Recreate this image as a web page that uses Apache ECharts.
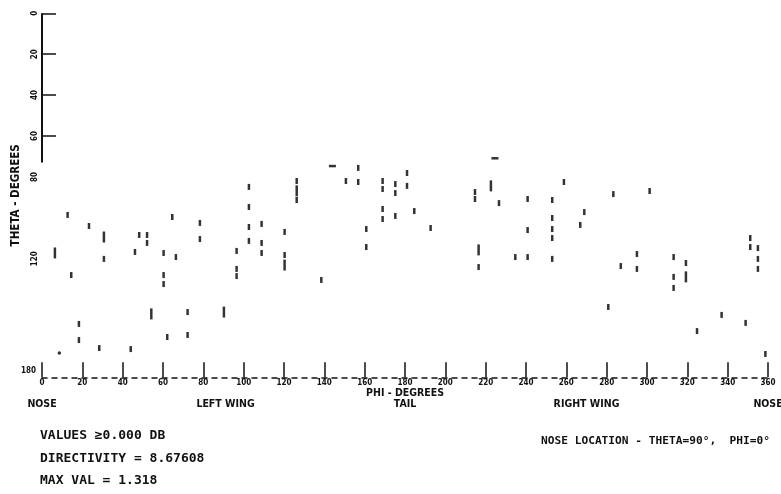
<!DOCTYPE html>
<html lang="en">
<head>
    <meta charset="UTF-8">
    <title>Theta - Phi pattern</title>
    <script src="https://cdn.jsdelivr.net/npm/echarts@6.0.0/dist/echarts.min.js"></script>
    <style>
        html, body { margin: 0; padding: 0; background: #fff; }
    </style>
</head>
<body>
    <div id="main" style="width: 781px; height: 494px;"></div>
    <script>
        // [phi, theta] in degrees
        var shortDashes = [
            [102.6, 84.9], [102.6, 94.7], [126.3, 82.0], [126.3, 91.3],
            [12.7, 98.6], [23.3, 104.0], [64.6, 99.6], [78.3, 102.5], [108.9, 103.0], [102.6, 104.5],
            [48.2, 108.4], [52.1, 108.4], [52.1, 112.3], [78.3, 110.4], [102.6, 111.3], [108.9, 112.3],
            [120.3, 106.9], [30.7, 120.1], [46.1, 116.7], [60.3, 117.2], [66.4, 119.2], [96.5, 116.2],
            [108.9, 117.2], [120.3, 118.2], [14.5, 128.0], [60.3, 128.0], [60.3, 132.4], [96.5, 125.0],
            [96.5, 128.5], [72.2, 146.1], [18.3, 151.9], [18.3, 159.8], [62.1, 158.3], [72.2, 157.3],
            [28.4, 163.7], [44.0, 164.2],
            [156.8, 75.6], [150.7, 82.0], [156.8, 82.5], [168.9, 82.0], [168.9, 85.9], [175.2, 83.5],
            [175.2, 87.9], [181.0, 78.1], [181.0, 84.4], [168.9, 95.7], [168.9, 100.6], [175.2, 99.1],
            [184.6, 96.7], [160.8, 105.5], [160.8, 114.3], [192.7, 105.0], [138.5, 130.4],
            [214.7, 87.4], [214.7, 90.8], [226.6, 92.8], [240.8, 90.8], [240.8, 106.0], [216.5, 124.1],
            [234.7, 119.2], [240.8, 119.2],
            [258.8, 82.5], [253.0, 91.3], [283.3, 88.4], [301.3, 86.9], [268.9, 97.2], [253.0, 100.1],
            [266.9, 103.5], [253.0, 105.5], [253.0, 109.9], [253.0, 120.1], [351.2, 109.9], [351.2, 114.3],
            [355.0, 114.8], [355.0, 120.1], [355.0, 125.0], [295.0, 117.7], [295.0, 125.0], [287.0, 123.6],
            [313.2, 119.2], [313.2, 128.9], [313.2, 134.3], [319.3, 122.1], [280.8, 143.6], [337.0, 147.5],
            [348.9, 151.4], [324.8, 155.4], [358.7, 166.6]
        ];
        var longDashes = [
            [126.3, 86.8], [30.7, 109.4], [6.4, 117.2], [120.3, 123.1], [54.2, 147.0], [90.2, 146.1],
            [222.6, 84.4], [216.5, 115.7], [319.3, 128.9]
        ];
        var flatDashes = [[144.0, 74.7], [224.6, 70.9]];
        var dots = [[8.6, 166.1]];

        // the drawn part of the theta axis
        var thetaAxisRun = [[0, 0], [0, 73]];

        var phiTicks = [0, 20, 40, 60, 80, 100, 120, 140, 160, 180, 200, 220, 240, 260, 280, 300, 320, 340, 360];
        var thetaTicks = [0, 20, 40, 60];
        var thetaLabels = [0, 20, 40, 60, 80, 120];
        var thetaEndLabel = 175;
        var regionAt = [0, 91, 180, 270, 360];
        var regionNames = ['NOSE', 'LEFT WING', 'TAIL', 'RIGHT WING', 'NOSE'];

        var notes = ['VALUES \u22650.000 DB', 'DIRECTIVITY = 8.67608', 'MAX VAL = 1.318'];
        var noseNote = 'NOSE LOCATION - THETA=90\u00b0,  PHI=0\u00b0';

        var font = 'DejaVu Sans Condensed';
        var ink = '#111';

        var chartDom = document.getElementById('main');
        var myChart = echarts.init(chartDom);
        var option;

        option = {
            animation: false,
            backgroundColor: '#fff',
            grid: {
                left: 42,
                right: 13,
                top: 13.3,
                bottom: 116.7,
                containLabel: false,
                outerBoundsMode: 'none'
            },
            xAxis: [
                {
                    type: 'value',
                    min: 0,
                    max: 360,
                    interval: 20,
                    position: 'bottom',
                    name: 'PHI - DEGREES',
                    nameLocation: 'middle',
                    nameGap: 10,
                    nameMoveOverlap: false,
                    nameTextStyle: { fontFamily: font, fontWeight: 'bold', fontSize: 10.5, color: ink },
                    axisLine: { show: true, onZero: false, lineStyle: { color: ink, width: 1.5, type: [5, 5] } },
                    axisTick: { show: true, inside: true, length: 15, lineStyle: { color: ink, width: 1.5 } },
                    axisLabel: {
                        customValues: phiTicks,
                        margin: 2,
                        fontFamily: font, fontWeight: 'bold', fontSize: 8, color: ink
                    },
                    splitLine: { show: false }
                },
                {
                    type: 'value',
                    min: 0,
                    max: 360,
                    position: 'bottom',
                    offset: 19,
                    axisLine: { show: false, onZero: false },
                    axisTick: { show: false },
                    splitLine: { show: false },
                    axisLabel: {
                        customValues: regionAt,
                        margin: 2,
                        fontFamily: font, fontWeight: 'bold', fontSize: 10.5, color: ink,
                        formatter: function (v) {
                            return regionNames[regionAt.indexOf(v)] || '';
                        }
                    }
                }
            ],
            yAxis: [
                {
                    type: 'value',
                    inverse: true,
                    min: 0,
                    max: 178,
                    position: 'left',
                    name: 'THETA - DEGREES',
                    nameLocation: 'middle',
                    nameGap: 20,
                    nameTextStyle: { fontFamily: font, fontWeight: 'bold', fontSize: 11.5, color: ink },
                    axisLine: { show: false, onZero: false },
                    axisTick: {
                        show: true, inside: true, length: 14,
                        customValues: thetaTicks,
                        lineStyle: { color: ink, width: 1.5 }
                    },
                    axisLabel: {
                        customValues: thetaLabels,
                        rotate: 90,
                        margin: 3,
                        fontFamily: font, fontWeight: 'bold', fontSize: 8, color: ink
                    },
                    splitLine: { show: false }
                },
                {
                    type: 'value',
                    inverse: true,
                    min: 0,
                    max: 178,
                    position: 'left',
                    axisLine: { show: false, onZero: false },
                    axisTick: { show: false },
                    splitLine: { show: false },
                    axisLabel: {
                        customValues: [thetaEndLabel],
                        margin: 6,
                        fontFamily: font, fontWeight: 'bold', fontSize: 8, color: ink,
                        formatter: function () { return '180'; }
                    }
                }
            ],
            series: [
                {
                    name: 'theta axis',
                    type: 'line',
                    data: thetaAxisRun,
                    symbol: 'none',
                    lineStyle: { color: ink, width: 2 },
                    silent: true
                },
                {
                    name: 'short',
                    type: 'scatter',
                    data: shortDashes,
                    symbol: 'rect',
                    symbolSize: [2.5, 6],
                    itemStyle: { color: '#000' }
                },
                {
                    name: 'long',
                    type: 'scatter',
                    data: longDashes,
                    symbol: 'rect',
                    symbolSize: [2.5, 11],
                    itemStyle: { color: '#000' }
                },
                {
                    name: 'flat',
                    type: 'scatter',
                    data: flatDashes,
                    symbol: 'rect',
                    symbolSize: [7, 2.5],
                    itemStyle: { color: '#000' }
                },
                {
                    name: 'dot',
                    type: 'scatter',
                    data: dots,
                    symbol: 'circle',
                    symbolSize: 3.5,
                    itemStyle: { color: '#000' }
                }
            ],
            graphic: [
                {
                    type: 'text', left: 40, top: 429,
                    style: { text: notes[0], font: 'bold 13px "DejaVu Sans Mono"', fill: ink }
                },
                {
                    type: 'text', left: 40, top: 452,
                    style: { text: notes[1], font: 'bold 13px "DejaVu Sans Mono"', fill: ink }
                },
                {
                    type: 'text', left: 40, top: 474,
                    style: { text: notes[2], font: 'bold 13px "DejaVu Sans Mono"', fill: ink }
                },
                {
                    type: 'text', left: 541, top: 436,
                    style: { text: noseNote, font: 'bold 11.2px "DejaVu Sans Mono"', fill: ink }
                }
            ]
        };

        option && myChart.setOption(option);
    </script>
</body>
</html>
